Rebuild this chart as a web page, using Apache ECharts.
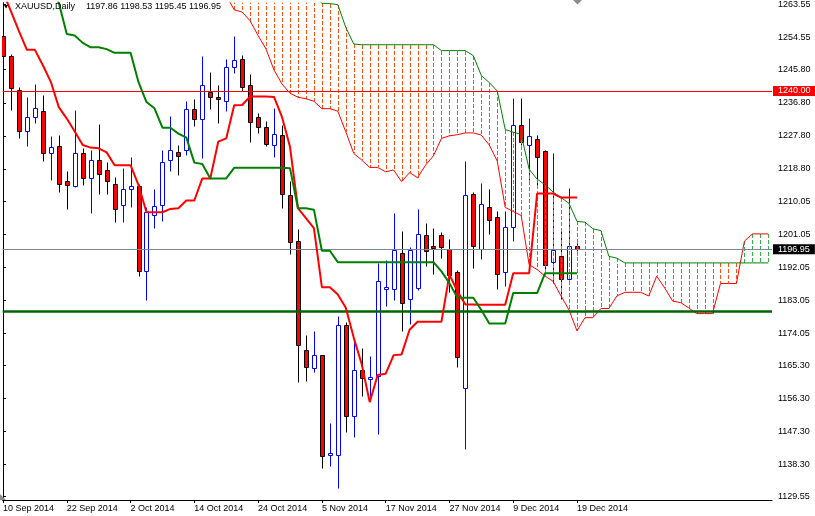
<!DOCTYPE html>
<html><head><meta charset="utf-8">
<script src="https://cdn.jsdelivr.net/npm/echarts@6/dist/echarts.min.js"></script>
<style>html,body{margin:0;padding:0;background:#fff}#c{width:815px;height:516px}</style>
</head><body><div id="c"></div><script>
// ---- data (bar index 0 = 10 Sep 2014) ----
const dateLabels = ['10 Sep 2014','22 Sep 2014','2 Oct 2014','14 Oct 2014','24 Oct 2014','5 Nov 2014','17 Nov 2014','27 Nov 2014','9 Dec 2014','19 Dec 2014'];
const dateLabelBars = [0,8,16,24,32,40,48,56,64,72];
const priceTicks = [1263.55,1254.55,1245.80,1236.80,1227.80,1218.80,1210.05,1201.05,1192.05,1183.05,1174.05,1165.30,1156.30,1147.30,1138.30,1129.55];

const opens  = [1255.1,1249.5,1240.4,1229.2,1232.8,1234.5,1223.1,1225.0,1215.5,1214.2,1223.1,1216.4,1221.1,1218.4,1214.7,1209.0,1213.3,1214.1,1190.9,1206.3,1209.0,1221.2,1223.4,1223.9,1235.2,1232.3,1239.7,1238.5,1237.2,1246.6,1248.7,1241.7,1232.8,1230.1,1225.4,1228.0,1211.7,1199.2,1169.4,1164.6,1168.1,1141.0,1141.0,1176.3,1151.5,1164.0,1161.6,1162.5,1186.2,1186.2,1196.0,1183.5,1186.4,1200.8,1197.9,1200.8,1197.0,1190.7,1159.2,1212.0,1197.0,1208.5,1205.8,1190.6,1203.1,1230.7,1225.3,1226.9,1223.7,1193.4,1195.0,1188.8,1197.86];
const highs  = [1257.3,1250.0,1241.0,1238.3,1241.9,1239.0,1227.8,1228.1,1218.3,1234.8,1224.4,1224.0,1230.9,1220.7,1216.6,1219.1,1222.0,1214.8,1208.5,1213.3,1223.9,1233.2,1225.3,1237.4,1237.9,1249.5,1245.1,1241.6,1248.7,1255.1,1249.8,1244.6,1234.0,1231.8,1235.4,1230.7,1215.5,1202.4,1173.6,1174.6,1168.2,1149.6,1178.8,1177.0,1172.8,1170.0,1167.9,1193.1,1194.1,1206.9,1201.9,1197.5,1207.8,1204.2,1202.8,1201.5,1199.6,1191.4,1220.9,1212.6,1215.0,1213.2,1207.4,1207.4,1238.0,1238.0,1232.7,1228.1,1223.9,1223.2,1202.8,1213.7,1198.53];
const lows   = [1243.5,1234.7,1227.3,1225.1,1231.4,1221.0,1215.7,1212.4,1207.9,1213.8,1214.4,1206.7,1211.9,1211.9,1204.3,1204.3,1208.3,1189.6,1183.0,1202.6,1204.5,1218.2,1217.1,1222.5,1230.5,1221.7,1235.2,1231.4,1234.5,1244.9,1239.9,1226.0,1228.7,1225.1,1222.1,1208.1,1195.6,1160.9,1161.1,1163.6,1137.5,1137.9,1131.8,1147.2,1145.8,1157.1,1157.1,1146.7,1181.5,1183.1,1174.7,1176.5,1185.8,1192.3,1190.2,1194.5,1185.3,1165.0,1142.6,1191.8,1194.3,1201.0,1186.1,1187.0,1199.2,1225.3,1215.7,1214.1,1190.9,1187.7,1183.4,1188.6,1195.45];
const closes = [1249.5,1240.9,1229.1,1232.8,1235.3,1223.1,1224.7,1214.6,1214.4,1223.1,1216.4,1221.1,1217.3,1215.5,1207.9,1213.3,1214.2,1190.9,1207.0,1208.8,1220.6,1223.9,1222.3,1235.2,1232.3,1241.5,1238.5,1237.9,1246.6,1248.5,1241.2,1231.6,1230.1,1225.7,1228.2,1212.0,1198.8,1170.8,1165.0,1168.1,1140.6,1141.4,1176.3,1151.4,1164.0,1162.0,1162.1,1188.4,1186.7,1196.8,1182.3,1196.8,1201.1,1196.5,1197.2,1197.5,1189.8,1167.7,1211.7,1197.8,1209.3,1204.9,1190.3,1203.1,1230.7,1226.1,1227.7,1221.9,1192.7,1196.8,1188.8,1197.9,1196.95];

const tenkan = [1266.9,1261.7,1256.3,1251.2,1251.2,1247.0,1242.5,1235.6,1232.5,1229.0,1225.3,1224.6,1224.4,1223.3,1219.8,1219.8,1219.8,1214.4,1207.0,1207.0,1207.0,1207.9,1208.1,1210.2,1210.2,1216.2,1216.2,1226.2,1227.1,1236.1,1236.2,1238.5,1238.5,1238.5,1238.4,1232.9,1224.8,1208.1,1205.4,1202.7,1186.6,1186.6,1184.6,1181.0,1172.8,1165.6,1155.3,1162.7,1163.0,1168.1,1168.3,1175.0,1177.2,1177.2,1177.2,1177.2,1190.0,1185.5,1181.9,1181.9,1181.8,1181.8,1181.8,1181.8,1190.4,1190.4,1190.4,1212.1,1212.1,1212.1,1211.0,1211.0,1211.0];
const kijun  = [1270,1270,1270,1270,1270,1270,1268,1264.0,1255.5,1255.1,1253.1,1251.9,1251.9,1251.4,1250.4,1250.4,1250.4,1242.4,1237.0,1235.3,1230.0,1230.0,1228.4,1227.3,1220.5,1220.1,1216.2,1216.2,1216.2,1219.1,1219.1,1219.1,1219.1,1219.1,1219.1,1219.1,1219.0,1208.1,1208.1,1207.7,1196.5,1196.5,1193.4,1193.4,1193.4,1193.4,1193.4,1193.4,1193.4,1193.4,1193.4,1193.4,1193.4,1193.4,1193.4,1190.9,1187.7,1183.7,1183.7,1183.7,1180.4,1176.7,1176.7,1176.7,1185.0,1185.0,1185.0,1185.0,1190.4,1190.4,1190.4,1190.4,1190.4];

// Senkou spans, bars 28..96 (runs 24 bars into the future)
const spanStart = 28;
const spanA = [1266.0,1262.1,1261.5,1259.1,1255.1,1251.4,1245.7,1241.9,1239.4,1238.3,
               1237.9,1237.2,1235.2,1235.2,1234.5,1228.9,1223.0,1221.2,1219.2,1219.2,
               1218.0,1218.5,1215.3,1217.8,1216.4,1219.8,1222.4,1227.1,1227.8,1228.1,
               1228.6,1228.6,1228.0,1225.3,1220.9,1208.3,1207.2,1206.1,1192.7,1191.4,
               1189.6,1188.2,1184.2,1180.4,1174.7,1178.3,1178.3,1180.8,1180.8,1184.2,
               1185.2,1185.2,1185.2,1184.2,1189.6,1186.4,1182.8,1182.4,1181.0,1179.4,
               1179.4,1179.4,1187.6,1187.6,1187.6,1199.1,1201.1,1201.1,1201.1];
const spanB = [1272,1270,1270,1270,1270,1270,1270,1270,1270,1270,
               1270,1266,1263.9,1263.8,1263.5,1257.3,1252.8,1252.6,1252.6,1252.6,
               1252.6,1252.6,1252.6,1252.6,1252.6,1252.6,1252.6,1251.0,1251.0,1251.0,
               1251.0,1249.6,1244.2,1242.3,1240.0,1229.5,1228.8,1228.2,1218.7,1216.0,
               1214.5,1212.5,1211.0,1209.4,1204.5,1204.3,1202.5,1202.0,1195.0,1194.5,
               1193.2,1193.2,1193.2,1193.2,1193.2,1193.2,1193.2,1193.2,1193.2,1193.2,
               1193.2,1193.2,1193.2,1193.2,1193.2,1193.2,1193.2,1193.2,1193.2];

const levelRed = 1240.00, levelGreen = 1180.0, bidPrice = 1196.95;
const symbolName = 'XAUUSD,Daily';

// ---- chart ----
const FONT = '"Liberation Sans", Arial, sans-serif';
const BEAR_KUMO = '#ff5014', BULL_KUMO = '#2db34a';
const last = opens.length - 1;
const ohlcText = [opens[last], highs[last], lows[last], closes[last]].map(v => v.toFixed(2)).join(' ');
const candleData = opens.map((o, i) => [i, o, closes[i], lows[i], highs[i]]);
const cloudData = spanA.map((a, i) => [spanStart + i, a, spanB[i]]);
const toXY = (arr, start) => arr.map((v, i) => [start + i, v]);

const chart = echarts.init(document.getElementById('c'));
chart.setOption({
  animation: false,
  backgroundColor: '#ffffff',
  grid: { left: 0, right: 43, top: 0, bottom: 16 },
  xAxis: {
    type: 'value', min: -0.0375, max: 96.4625,
    axisLine: { show: true, onZero: false, lineStyle: { color: '#000', width: 1 } },
    axisTick: { show: true, customValues: dateLabelBars, length: 3, lineStyle: { color: '#000' } },
    axisLabel: { customValues: dateLabelBars, formatter: v => dateLabels[dateLabelBars.indexOf(Math.round(v))] || '',
      align: 'left', margin: 4, fontSize: 9, fontFamily: FONT, color: '#000' },
    splitLine: { show: false }
  },
  yAxis: {
    type: 'value', position: 'right', min: 1128.66, max: 1264.04,
    axisLine: { show: true, lineStyle: { color: '#000', width: 1 } },
    axisTick: { show: true, customValues: priceTicks, length: 3, lineStyle: { color: '#000' } },
    axisLabel: { customValues: priceTicks, formatter: v => v.toFixed(2), margin: 6, fontSize: 9, fontFamily: FONT, color: '#000' },
    splitLine: { show: false }
  },
  series: [
    {
      type: 'custom', name: 'candles', clip: true, z: 2, data: candleData,
      itemStyle: { color: '#ff0000' },
      encode: { x: 0, y: [1, 2, 3, 4] },
      renderItem: (params, api) => {
        const k = api.value(0), o = api.value(1), c = api.value(2), l = api.value(3), h = api.value(4);
        const po = api.coord([k, o]), pc = api.coord([k, c]), pl = api.coord([k, l]), ph = api.coord([k, h]);
        const x = Math.round(po[0]);
        const bull = c >= o;
        const stroke = bull ? '#0000ff' : '#000000';
        const fill = bull ? '#ffffff' : '#ff0000';
        const top = Math.round(Math.min(po[1], pc[1])), bot = Math.round(Math.max(po[1], pc[1]));
        return { type: 'group', children: [
          { type: 'line', shape: { x1: x + 0.5, y1: Math.round(ph[1]) + 0.5, x2: x + 0.5, y2: Math.round(pl[1]) + 0.5 }, style: { stroke, fill: null, lineWidth: 1 } },
          { type: 'rect', shape: { x: x - 1.5, y: top + 0.5, width: 4, height: Math.max(bot - top, 0) }, style: { fill, stroke, lineWidth: 1 } }
        ] };
      }
    },
    {
      type: 'custom', name: 'kumo', clip: true, z: 3, data: cloudData,
      itemStyle: { color: BEAR_KUMO },
      encode: { x: 0, y: [1, 2] },
      renderItem: (params, api) => {
        const k = api.value(0), a = api.value(1), b = api.value(2);
        const pa = api.coord([k, a]), pb = api.coord([k, b]);
        const x = Math.round(pa[0]);
        const color = a < b ? BEAR_KUMO : BULL_KUMO;
        const y0 = Math.round(Math.min(pa[1], pb[1])), y1 = Math.round(Math.max(pa[1], pb[1]));
        const children = [];
        for (let y = Math.max(y0, -6); y < Math.min(y1, 506); y += 6) {
          children.push({ type: 'rect', shape: { x: x, y: y, width: 1, height: Math.min(4, y1 - y) }, style: { fill: color, stroke: null } });
        }
        return { type: 'group', children };
      }
    },
    { type: 'line', name: 'Senkou A', z: 4, data: toXY(spanA, spanStart), symbol: 'none', clip: true, lineStyle: { color: '#ff0000', width: 1 } },
    { type: 'line', name: 'Senkou B', z: 4, data: toXY(spanB, spanStart), symbol: 'none', clip: true, lineStyle: { color: '#008000', width: 1 } },
    { type: 'line', name: 'Tenkan', z: 5, data: toXY(tenkan, 0), symbol: 'none', clip: true, lineStyle: { color: '#ff0000', width: 2 } },
    { type: 'line', name: 'Kijun', z: 5, data: toXY(kijun, 0), symbol: 'none', clip: true, lineStyle: { color: '#008000', width: 2 },
      markLine: { symbol: ['none', 'none'], silent: true, animation: false, data: [
        { yAxis: levelGreen, lineStyle: { color: '#006400', width: 2.5, type: 'solid' }, label: { show: false } },
        { yAxis: levelRed, lineStyle: { color: '#ff0000', width: 1, type: 'solid' },
          label: { show: true, position: 'end', distance: 1, formatter: levelRed.toFixed(2), color: '#fff', backgroundColor: '#ff0000', padding: [1, 5, 0, 5], fontSize: 9, fontFamily: FONT } },
        { yAxis: bidPrice, lineStyle: { color: '#778899', width: 1, type: 'solid' },
          label: { show: true, position: 'end', distance: 1, formatter: bidPrice.toFixed(2), color: '#fff', backgroundColor: '#000', padding: [1, 5, 0, 5], fontSize: 9, fontFamily: FONT } }
      ] } }
  ],
  graphic: [
    { type: 'polygon', shape: { points: [[4, 5], [8, 5], [6, 8.5]] }, style: { fill: '#000' }, z: 20 },
    { type: 'text', x: 15, y: 7, style: { text: symbolName, fontSize: 9, fontFamily: FONT, fill: '#000', verticalAlign: 'middle' }, z: 20 },
    { type: 'text', x: 86, y: 7, style: { text: ohlcText, fontSize: 9, fontFamily: FONT, fill: '#000', verticalAlign: 'middle' }, z: 20 },
    { type: 'polygon', shape: { points: [[573, 0], [582, 0], [577.5, 4.5]] }, style: { fill: '#8c8c8c' }, z: 20 },
    { type: 'polygon', shape: { points: [[0, 494], [0, 500], [6, 500]] }, style: { fill: '#8c8c8c' }, z: 20 }
  ]
});
</script></body></html>
